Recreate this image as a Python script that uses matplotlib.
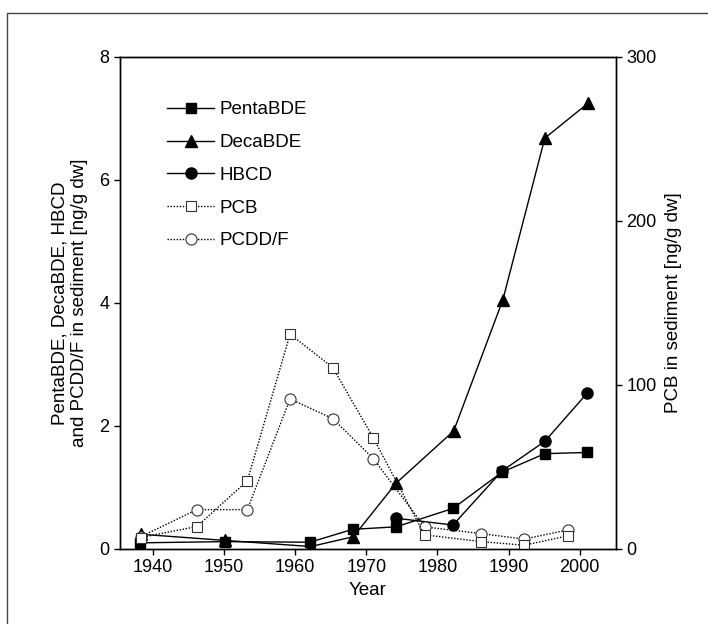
import numpy as np
import matplotlib
matplotlib.use('Agg')
import matplotlib.pyplot as plt
from matplotlib.patches import Rectangle

plt.rcParams['font.family'] = ['Liberation Sans', 'DejaVu Sans']
plt.rcParams['font.size'] = 13.5

# 데이터
penta_year = [1938.2, 1950.1, 1962.1, 1968.1, 1974.2, 1982.2, 1989.1, 1995.1, 2001.1]
penta_val = [0.10, 0.12, 0.11, 0.32, 0.36, 0.66, 1.25, 1.55, 1.57]

deca_year = [1938.3, 1950.1, 1962.2, 1968.2, 1974.2, 1982.3, 1989.2, 1995.1, 2001.2]
deca_val = [0.24, 0.14, 0.04, 0.20, 1.07, 1.92, 4.05, 6.68, 7.25]

hbcd_year = [1974.2, 1982.2, 1989.1, 1995.1, 2001.1]
hbcd_val = [0.50, 0.39, 1.27, 1.75, 2.54]

pcb_year = [1938.3, 1946.2, 1953.3, 1959.3, 1965.3, 1971.0, 1978.2, 1986.2, 1992.2, 1998.3]
pcb_val = [7.0, 13.7, 41.6, 131.0, 110.6, 67.8, 8.6, 4.5, 2.3, 8.0]

pcdd_year = [1938.3, 1946.2, 1953.3, 1959.3, 1965.3, 1971.0, 1978.2, 1986.2, 1992.2, 1998.3]
pcdd_val = [0.20, 0.64, 0.64, 2.44, 2.12, 1.47, 0.36, 0.25, 0.16, 0.31]

xticks = [1940, 1950, 1960, 1970, 1980, 1990, 2000]

fig = plt.figure(figsize=(7.08, 6.24), dpi=100)
ax = fig.add_axes([0.1695, 0.1202, 0.7005, 0.7885])
ax2 = ax.twinx()

ms = 7
dot = (0, (1, 1.2))
l1, = ax.plot(penta_year, penta_val, '-', c='black', lw=1, marker='s', ms=ms, label='PentaBDE')
l2, = ax.plot(deca_year, deca_val, '-', c='black', lw=1, marker='^', ms=ms + 1, label='DecaBDE')
l3, = ax.plot(hbcd_year, hbcd_val, '-', c='black', lw=1, marker='o', ms=ms + 1, label='HBCD')
l5, = ax.plot(pcdd_year, pcdd_val, ls=dot, c='black', lw=1, marker='o', ms=ms + 1,
              mfc='white', mec='#333333', mew=0.8, label='PCDD/F')
l4, = ax2.plot(pcb_year, pcb_val, ls=dot, c='black', lw=1, marker='s', ms=ms,
               mfc='white', mec='#333333', mew=0.8, label='PCB')

ax.set_xlim(1935.4, 2005.1)
ax.set_ylim(0, 8)
ax2.set_ylim(0, 300)
ax.set_xticks(xticks)
ax.set_yticks([0, 2, 4, 6, 8])
ax2.set_yticks([0, 100, 200, 300])

ax.tick_params(direction='out', length=4, width=1, labelsize=13)
ax2.tick_params(direction='out', length=4, width=1, labelsize=13)

ax.set_xlabel('Year', labelpad=4)
ax.set_ylabel('PentaBDE, DecaBDE, HBCD\nand PCDD/F in sediment [ng/g dw]', labelpad=8)
ax2.set_ylabel('PCB in sediment [ng/g dw]', labelpad=6)

for a in (ax, ax2):
    for s in a.spines.values():
        s.set_linewidth(1)

ax.legend(handles=[l1, l2, l3, l4, l5], loc='upper left', bbox_to_anchor=(0.08, 0.925),
          frameon=False, handlelength=2.5, handletextpad=0.3, labelspacing=0.83,
          borderaxespad=0, fontsize=13.5)

# figure frame
fig.add_artist(Rectangle((7 / 708, -0.5), 2, 0.5 + (1 - 12.5 / 624), transform=fig.transFigure,
                         fill=False, ec='#444444', lw=1))

plt.savefig('out.png', dpi=100)
